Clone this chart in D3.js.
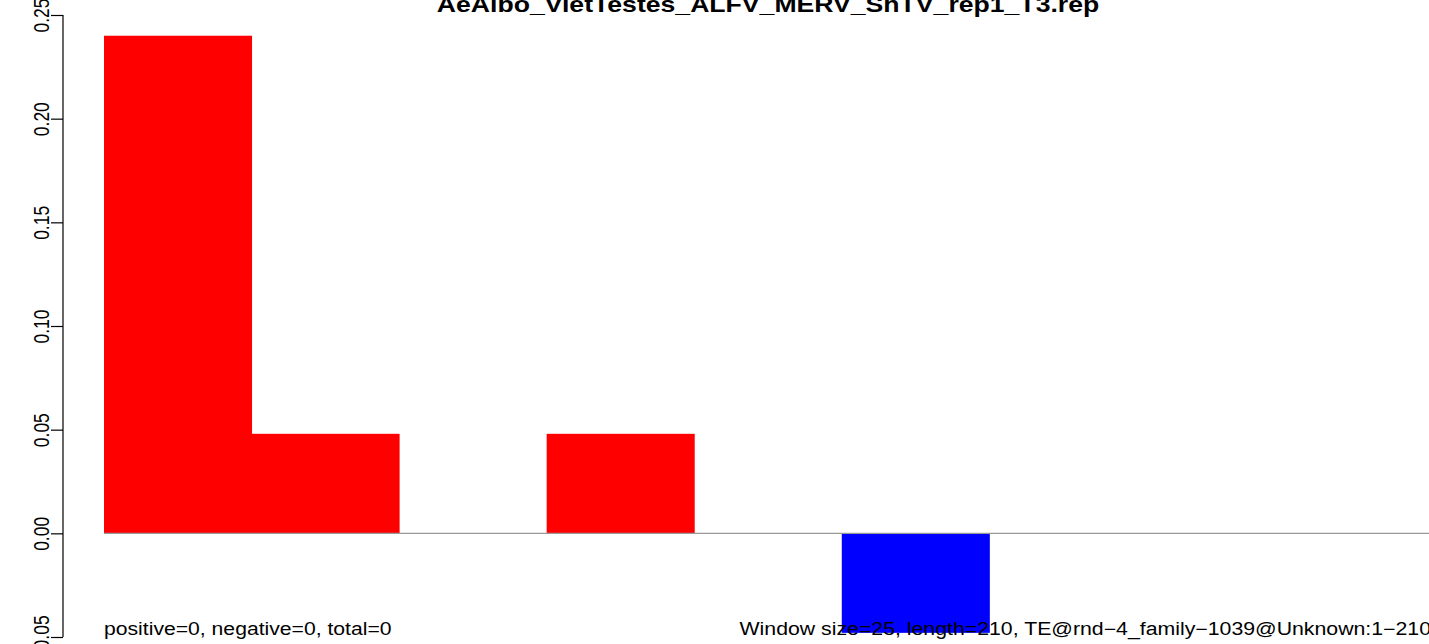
<!DOCTYPE html>
<html>
<head>
<meta charset="utf-8">
<script src="https://cdn.jsdelivr.net/npm/d3@7"></script>
<style>
  html, body { margin: 0; padding: 0; background: #fff; }
  svg { display: block; }
  text { font-family: "Liberation Sans", Arial, Helvetica, sans-serif; fill: #000; }
</style>
</head>
<body>
<div id="chart"></div>
<script>
// ---- data ----
const windows = [1, 2, 3, 4, 5, 6, 7, 8, 9];
const values = [0.24, 0.048, 0, 0.048, 0, -0.048, 0, 0, 0];
const yTicks = [-0.05, 0.00, 0.05, 0.10, 0.15, 0.20, 0.25];
const titleText = "AeAlbo_VietTestes_ALFV_MERV_ShTV_rep1_T3.rep";
const leftNote = "positive=0, negative=0, total=0";
const rightNote = "Window size=25, length=210, TE@rnd\u22124_family\u22121039@Unknown:1\u2212210";

// ---- layout ----
const W = 1429, H = 644;
const sx = 1.21;           // horizontal stretch of the original raster
const fs = 17.5;           // base font size (px)
const barLeft = 104, barRight = 1432;
const axisX = 63;
const titleCenter = 768;

const svg = d3.select("#chart").append("svg")
  .attr("width", W).attr("height", H);

const x = d3.scaleBand().domain(windows).range([barLeft, barRight]).padding(0);
const y = d3.scaleLinear().domain([-0.05, 0.25]).range([637, 15]);

// bars
svg.append("g").selectAll("rect").data(values).join("rect")
  .attr("x", (d, i) => x(windows[i]))
  .attr("width", x.bandwidth() + 0.5)
  .attr("y", d => y(Math.max(0, d)))
  .attr("height", d => Math.abs(y(d) - y(0)))
  .attr("fill", d => d >= 0 ? "#ff0000" : "#0000ff");

// zero line
svg.append("line")
  .attr("x1", barLeft).attr("x2", W)
  .attr("y1", y(0)).attr("y2", y(0))
  .attr("stroke", "#999").attr("stroke-width", 1.3);

// y axis
const axis = d3.axisLeft(y).tickValues(yTicks).tickSize(12).tickFormat(d3.format(".2f"));
const ga = svg.append("g").attr("transform", `translate(${axisX},0)`).call(axis);
ga.select(".domain").attr("stroke", "#000").attr("stroke-width", 1.2)
  .attr("d", `M0,${y(0.25)}V${y(-0.05)}`);
ga.selectAll(".tick line").attr("stroke", "#000").attr("stroke-width", 1.2);
ga.selectAll(".tick text").remove();
ga.selectAll(".tick").append("text")
  .attr("transform", `translate(-14,0) scale(${sx},1) rotate(-90)`)
  .attr("text-anchor", "middle")
  .attr("font-size", fs)
  .attr("fill", "#000")
  .text(d => d3.format(".2f")(d));

// title
svg.append("text")
  .attr("transform", `translate(${titleCenter},12) scale(${sx},1)`)
  .attr("text-anchor", "middle")
  .attr("font-size", 22)
  .attr("font-weight", "bold")
  .text(titleText);

// bottom notes
svg.append("text")
  .attr("transform", `translate(${barLeft},635) scale(${sx},1)`)
  .attr("font-size", fs)
  .text(leftNote);
svg.append("text")
  .attr("transform", `translate(1431,635) scale(${sx},1)`)
  .attr("text-anchor", "end")
  .attr("font-size", fs + 0.1)
  .text(rightNote);
</script>
</body>
</html>
